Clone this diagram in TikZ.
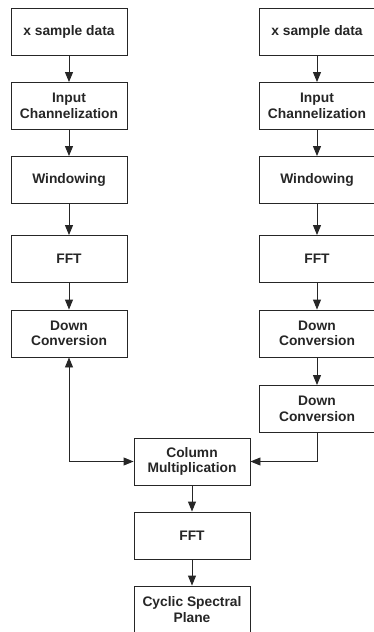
\documentclass[tikz,border=0pt]{standalone}
\usepackage{fontspec}
\setmainfont{Liberation Sans}
\usetikzlibrary{arrows.meta}
\begin{document}
\begin{tikzpicture}[x=1pt,y=-1pt]
\tikzstyle{block}=[draw=black!85,line width=0.9pt,minimum width=116pt,minimum height=47pt,inner sep=0pt,align=center,text=black!85,font=\fontsize{13.8}{15.5}\selectfont\bfseries]
\tikzstyle{flow}=[line width=0.9pt,draw=black!85,-{Triangle[length=10pt,width=8pt]}]
\useasboundingbox (0,0) rectangle (373,632);
    \node [block] (l1) at (69,31.5) {x sample data};
    \node [block] (l2) at (69,106) {Input\\Channelization};
    \node [block] (l3) at (69,180) {Windowing};
    \node [block] (l4) at (69,259) {FFT};
    \node [block] (l5) at (69,333.5) {Down\\Conversion};
    \node [block] (r1) at (317,31.5) {x sample data};
    \node [block] (r2) at (317,106) {Input\\Channelization};
    \node [block] (r3) at (317,180) {Windowing};
    \node [block] (r4) at (317,259) {FFT};
    \node [block] (r5) at (317,333.5) {Down\\Conversion};
    \node [block] (r6) at (317,409) {Down\\Conversion};
    \node [block] (m1) at (192,461.5) {Column\\Multiplication};
    \node [block] (m2) at (192,535.5) {FFT};
    \node [block] (m3) at (192,609.5) {Cyclic Spectral\\Plane};
    \draw [flow] (l1) to (l2);
    \draw [flow] (l2) to (l3);
    \draw [flow] (l3) to (l4);
    \draw [flow] (l4) to (l5);
    \draw [flow] (r1) to (r2);
    \draw [flow] (r2) to (r3);
    \draw [flow] (r3) to (r4);
    \draw [flow] (r4) to (r5);
    \draw [flow] (r5) to (r6);
    \draw [flow,{Triangle[length=10pt,width=8pt]}-{Triangle[length=10pt,width=8pt]}] (l5) |- (m1);
    \draw [flow] (r6) |- (m1);
    \draw [flow] (m1) to (m2);
    \draw [flow] (m2) to (m3);
\end{tikzpicture}
\end{document}
